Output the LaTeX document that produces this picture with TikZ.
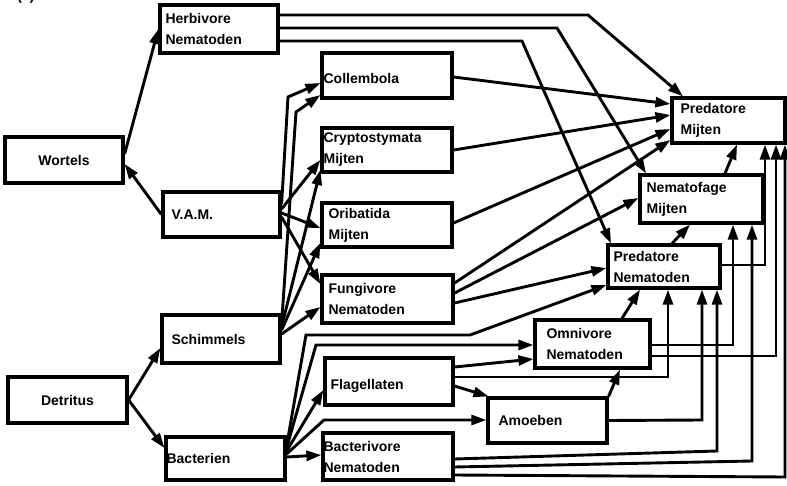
\documentclass[tikz,border=0pt]{standalone}
\usepackage{fontspec}
\setmainfont{Liberation Sans}
\usetikzlibrary{arrows.meta}

\begin{document}
\begin{tikzpicture}[x=1pt,y=-1pt,
  box/.style={draw, line width=3.2pt, inner sep=0pt},
  lbl/.style={inner sep=0pt, anchor=west, align=left,
              font=\fontsize{14}{21}\selectfont\bfseries},
  clbl/.style={inner sep=0pt, font=\fontsize{14}{21}\selectfont\bfseries},
  lnk/.style={line width=2.9pt, line join=miter,
              -{Triangle[length=15pt,width=10pt]}},
]
\useasboundingbox (0,0) rectangle (787,486);

% panel tag, partly above the page edge
\node[clbl] (tag) at (26,-3) {(a)};

% ---- boxes ----
\node[box, minimum width=118pt, minimum height=48pt] (herb)  at (219,29)    {};
\node[box, minimum width=118pt, minimum height=46pt] (wort)  at (64,160)    {};
\node[box, minimum width=117pt, minimum height=45pt] (vam)   at (221.5,214.5) {};
\node[box, minimum width=118pt, minimum height=48pt] (schim) at (221,339)   {};
\node[box, minimum width=119pt, minimum height=46pt] (detr)  at (67.5,400)  {};
\node[box, minimum width=119pt, minimum height=43pt] (bact)  at (225.5,458.5) {};
\node[box, minimum width=130pt, minimum height=45pt] (coll)  at (387,75.5)  {};
\node[box, minimum width=130pt, minimum height=44pt] (cryp)  at (387,150)   {};
\node[box, minimum width=130pt, minimum height=44pt] (orib)  at (387,225)   {};
\node[box, minimum width=131pt, minimum height=48pt] (fung)  at (387.5,299) {};
\node[box, minimum width=128pt, minimum height=47pt] (flag)  at (389,381.5) {};
\node[box, minimum width=130pt, minimum height=47pt] (bactv) at (388,456.5) {};
\node[box, minimum width=119pt, minimum height=45pt] (amoe)  at (547.5,420.5) {};
\node[box, minimum width=115pt, minimum height=48pt] (omni)  at (592.5,344) {};
\node[box, minimum width=112pt, minimum height=43pt] (predn) at (664,266.5) {};
\node[box, minimum width=123pt, minimum height=48pt] (nemf)  at (701.5,199) {};
\node[box, minimum width=113pt, minimum height=45pt] (predm) at (728.5,120.5) {};

% ---- labels ----
\node[lbl] (herbT)  at ([xshift=7pt]herb.west)   {Herbivore\\Nematoden};
\node[clbl] (wortT) at (wort.center)             {Wortels};
\node[lbl] (vamT)   at ([xshift=10pt]vam.west)   {V.A.M.};
\node[lbl] (schimT) at ([xshift=11pt]schim.west) {Schimmels};
\node[clbl] (detrT) at (detr.center)             {Detritus};
\node[lbl] (bactT)  at ([xshift=2pt]bact.west)   {Bacterien};
\node[lbl] (collT)  at ([xshift=3pt,yshift=-3pt]coll.west) {Collembola};
\node[lbl] (crypT)  at ([xshift=3pt]cryp.west)   {Cryptostymata\\Mijten};
\node[lbl] (oribT)  at ([xshift=8pt]orib.west)   {Oribatida\\Mijten};
\node[lbl] (fungT)  at ([xshift=8pt]fung.west)   {Fungivore\\Nematoden};
\node[lbl] (flagT)  at ([xshift=7pt,yshift=-4pt]flag.west) {Flagellaten};
\node[lbl] (bactvT) at ([xshift=2pt]bactv.west)  {Bacterivore\\Nematoden};
\node[lbl] (amoeT)  at ([xshift=12pt]amoe.west)  {Amoeben};
\node[lbl] (omniT)  at ([xshift=13pt]omni.west)  {Omnivore\\Nematoden};
\node[lbl] (prednT) at ([xshift=7pt]predn.west)  {Predatore\\Nematoden};
\node[lbl] (nemfT)  at ([xshift=8pt]nemf.west)   {Nematofage\\Mijten};
\node[lbl] (predmT) at ([xshift=10pt]predm.west) {Predatore\\Mijten};

% ---- roots and detritus ----
\draw[lnk] ([yshift=6pt]wort.east) -- (herb.west);
\draw[lnk] (vam.west) -- ([yshift=-4pt]wort.east);
\draw[lnk] (detr.east) -- (schim.west |- 0,348);
\draw[lnk] (detr.east) -- (bact.west |- 0,448);

% ---- fungal feeders ----
\draw[lnk] (vam.east |- 0,204)   -- (288,97)  -- (coll.west |- 0,83);
\draw[lnk] (schim.east |- 0,324) -- (296,112) -- (coll.west |- 0,95);
\draw[lnk] (vam.east |- 0,209)   -- (cryp.west |- 0,160);
\draw[lnk] (schim.east |- 0,327) -- (cryp.west |- 0,170);
\draw[lnk] (vam.east |- 0,213)   -- (orib.west |- 0,228);
\draw[lnk] (schim.east |- 0,330) -- (orib.west |- 0,243);
\draw[lnk] (vam.east |- 0,217)   -- (fung.west |- 0,284);
\draw[lnk] (schim.east |- 0,334) -- (fung.west |- 0,307);

% ---- bacterial feeders ----
\draw[lnk] (bact.east |- 0,446) -- (306,335) -- (470,335) -- (predn.west |- 0,285);
\draw[lnk] (bact.east |- 0,448) -- (316,345) -- (omni.west |- 0,345);
\draw[lnk] (bact.east |- 0,451) -- (flag.west |- 0,390);
\draw[lnk] (bact.east |- 0,454) -- (324,420) -- (amoe.west |- 0,420);
\draw[lnk] (bact.east |- 0,457) -- (bactv.west |- 0,455);

% ---- protozoa ----
\draw[lnk] (flag.east |- 0,367) -- (omni.west |- 0,359);
\draw[lnk] (flag.east |- 0,377) -- (668,377) -- (predn.south -| 668,0);
\draw[lnk] (flag.east |- 0,386) -- ([xshift=2pt]amoe.north west);
\draw[lnk] (amoe.north east) -- (omni.south -| 620,0);
\draw[lnk] (amoe.east) -- (702,420) -- (predn.south -| 702,0);

% ---- nematode feeders ----
\draw[lnk] (bactv.east |- 0,459) -- (717,451) -- (predn.south -| 717,0);
\draw[lnk] (bactv.east |- 0,467) -- (752,461) -- (nemf.south -| 752,0);
\draw[lnk] (bactv.east |- 0,475) -- (785,477) -- (predm.south -| 785,0);
\draw[lnk] (omni.north -| 622,0) -- (predn.south -| 640,0);
\draw[lnk] (omni.east |- 0,345) -- (733,345) -- (nemf.south -| 733,0);
\draw[lnk] (omni.east |- 0,356) -- (776,356) -- (predm.south -| 776,0);
\draw[lnk] (predn.north -| 672,0) -- (nemf.south -| 690,0);
\draw[lnk] (predn.east |- 0,265) -- (765,265) -- (predm.south -| 765,0);
\draw[lnk] (nemf.north -| 725,0) -- (predm.south -| 737,0);

% ---- into the predatory mites ----
\draw[lnk] (coll.east |- 0,77)  -- (predm.west |- 0,104);
\draw[lnk] (cryp.east |- 0,150) -- (predm.west |- 0,115);
\draw[lnk] (orib.east |- 0,223) -- (predm.west |- 0,129);
\draw[lnk] (fung.east |- 0,283) -- (predm.west |- 0,140);
\draw[lnk] (fung.east |- 0,293) -- (nemf.west |- 0,198);
\draw[lnk] (fung.east |- 0,303) -- (predn.west |- 0,268);

% ---- herbivore nematodes ----
\draw[lnk] (herb.east |- 0,15) -- (588,15) -- (predm.north -| 683,0);
\draw[lnk] (herb.east |- 0,28) -- (557,28) -- (nemf.north -| 646,0);
\draw[lnk] (herb.east |- 0,41) -- (522,41) -- (predn.north -| 611,0);
\end{tikzpicture}
\end{document}
